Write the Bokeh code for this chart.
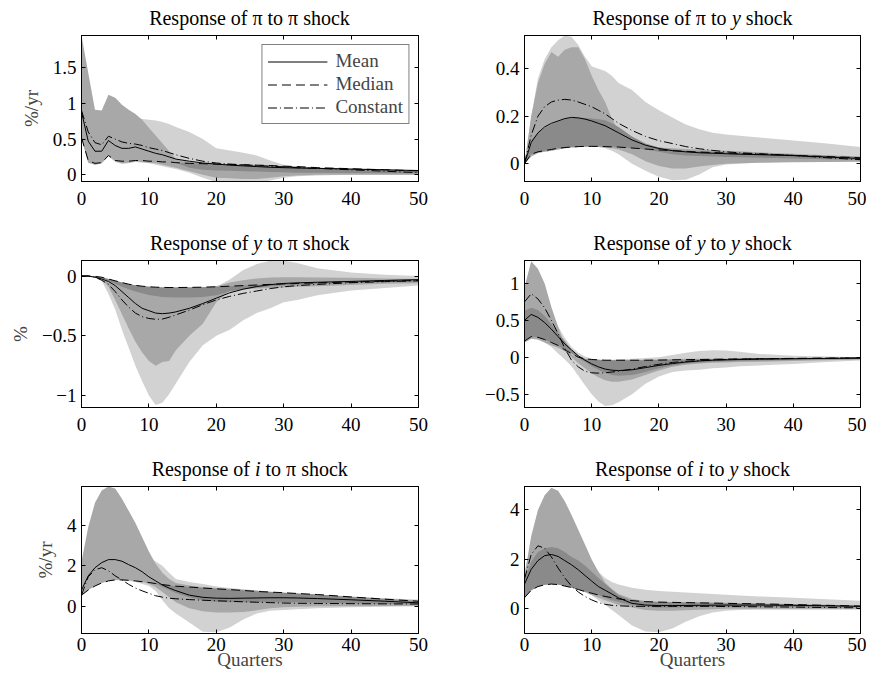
from bokeh.plotting import figure
from bokeh.models import Range1d, LinearAxis, FixedTicker, Legend, LegendItem
from bokeh.core.properties import value
from bokeh.layouts import gridplot
from bokeh.embed import file_html
from bokeh.resources import INLINE

# ---------------- data ----------------
X = [0, 1, 2, 3, 4, 5, 6, 7, 8, 9, 10, 11, 12, 13, 14, 16, 18, 20, 22, 24, 26, 28, 30, 32, 35, 40, 45, 50]
X_TICKS = [0, 10, 20, 30, 40, 50]

# Response of pi to pi shock
pp_mean = [0.88, 0.47, 0.33, 0.33, 0.48, 0.41, 0.37, 0.37, 0.39, 0.36, 0.33, 0.30, 0.28, 0.25, 0.22, 0.19, 0.165, 0.15, 0.135, 0.125, 0.115, 0.105, 0.10, 0.095, 0.09, 0.08, 0.07, 0.06]
pp_median = [0.52, 0.20, 0.16, 0.17, 0.27, 0.20, 0.19, 0.19, 0.20, 0.20, 0.19, 0.19, 0.18, 0.18, 0.17, 0.16, 0.155, 0.15, 0.145, 0.14, 0.135, 0.13, 0.12, 0.115, 0.10, 0.085, 0.07, 0.055]
pp_const = [0.90, 0.60, 0.45, 0.42, 0.54, 0.50, 0.46, 0.44, 0.43, 0.41, 0.38, 0.36, 0.34, 0.31, 0.28, 0.23, 0.19, 0.165, 0.15, 0.14, 0.13, 0.12, 0.11, 0.10, 0.09, 0.07, 0.05, 0.03]
pp_light_lo = [0.50, 0.17, 0.14, 0.16, 0.26, 0.18, 0.15, 0.16, 0.18, 0.17, 0.16, 0.14, 0.12, 0.10, 0.08, 0.03, -0.04, -0.10, -0.12, -0.12, -0.11, -0.08, -0.04, -0.02, -0.01, 0.0, 0.0, 0.0]
pp_light_hi = [1.50, 1.10, 0.85, 0.85, 1.00, 0.95, 0.88, 0.83, 0.80, 0.78, 0.77, 0.76, 0.74, 0.71, 0.67, 0.60, 0.50, 0.37, 0.34, 0.31, 0.27, 0.20, 0.14, 0.11, 0.085, 0.07, 0.06, 0.055]
pp_med_lo = [0.52, 0.17, 0.14, 0.16, 0.27, 0.19, 0.16, 0.17, 0.19, 0.18, 0.17, 0.16, 0.14, 0.12, 0.10, 0.05, 0.0, -0.04, -0.05, -0.06, -0.06, -0.04, -0.02, -0.01, 0.0, 0.0, 0.0, 0.0]
pp_med_hi = [1.95, 1.43, 0.91, 0.90, 1.12, 1.08, 0.98, 0.91, 0.85, 0.77, 0.66, 0.55, 0.44, 0.33, 0.22, 0.18, 0.16, 0.15, 0.14, 0.135, 0.13, 0.12, 0.11, 0.10, 0.095, 0.08, 0.07, 0.06]
pp_dark_lo = [0.52, 0.20, 0.16, 0.17, 0.27, 0.20, 0.19, 0.19, 0.20, 0.20, 0.19, 0.19, 0.18, 0.18, 0.17, 0.10, 0.07, 0.06, 0.055, 0.05, 0.045, 0.04, 0.035, 0.03, 0.03, 0.025, 0.02, 0.02]
pp_dark_hi = [0.52, 0.20, 0.16, 0.17, 0.27, 0.20, 0.19, 0.19, 0.20, 0.20, 0.19, 0.19, 0.18, 0.18, 0.17, 0.16, 0.155, 0.15, 0.145, 0.14, 0.135, 0.13, 0.12, 0.115, 0.10, 0.085, 0.07, 0.055]

# Response of pi to y shock
py_mean = [0.0, 0.09, 0.13, 0.155, 0.17, 0.18, 0.19, 0.195, 0.193, 0.188, 0.18, 0.17, 0.16, 0.145, 0.13, 0.10, 0.078, 0.064, 0.055, 0.05, 0.046, 0.044, 0.042, 0.04, 0.038, 0.034, 0.028, 0.022]
py_median = [0.0, 0.04, 0.05, 0.055, 0.06, 0.065, 0.068, 0.07, 0.072, 0.073, 0.073, 0.073, 0.072, 0.071, 0.07, 0.066, 0.062, 0.058, 0.055, 0.052, 0.049, 0.047, 0.045, 0.043, 0.04, 0.035, 0.03, 0.025]
py_const = [0.0, 0.12, 0.20, 0.24, 0.26, 0.268, 0.271, 0.268, 0.26, 0.25, 0.24, 0.225, 0.21, 0.19, 0.17, 0.14, 0.115, 0.097, 0.085, 0.072, 0.063, 0.056, 0.05, 0.046, 0.042, 0.035, 0.025, 0.017]
py_light_lo = [0.0, 0.03, 0.045, 0.05, 0.055, 0.06, 0.065, 0.068, 0.07, 0.07, 0.07, 0.07, 0.065, 0.055, 0.04, 0.0, -0.03, -0.055, -0.07, -0.068, -0.045, -0.015, -0.003, 0.0, 0.005, 0.008, 0.01, 0.01]
py_light_hi = [0.0, 0.20, 0.36, 0.44, 0.49, 0.52, 0.54, 0.535, 0.50, 0.45, 0.41, 0.40, 0.39, 0.37, 0.34, 0.31, 0.26, 0.225, 0.195, 0.165, 0.145, 0.13, 0.123, 0.118, 0.11, 0.098, 0.085, 0.07]
py_med_lo = [0.0, 0.03, 0.045, 0.05, 0.055, 0.06, 0.065, 0.068, 0.07, 0.07, 0.07, 0.07, 0.068, 0.065, 0.06, 0.04, 0.01, -0.01, -0.02, -0.02, -0.012, -0.005, 0.0, 0.002, 0.004, 0.006, 0.007, 0.008]
py_med_hi = [0.0, 0.20, 0.34, 0.42, 0.47, 0.45, 0.48, 0.49, 0.49, 0.44, 0.37, 0.31, 0.26, 0.19, 0.14, 0.09, 0.075, 0.068, 0.065, 0.062, 0.06, 0.058, 0.055, 0.052, 0.048, 0.042, 0.036, 0.03]
py_dark_lo = [0.0, 0.04, 0.05, 0.055, 0.06, 0.065, 0.068, 0.07, 0.072, 0.073, 0.073, 0.073, 0.072, 0.071, 0.07, 0.066, 0.06, 0.05, 0.04, 0.035, 0.032, 0.03, 0.028, 0.027, 0.025, 0.022, 0.019, 0.015]
py_dark_hi = [0.0, 0.10, 0.13, 0.15, 0.165, 0.178, 0.188, 0.193, 0.194, 0.193, 0.19, 0.187, 0.183, 0.17, 0.155, 0.115, 0.085, 0.068, 0.06, 0.055, 0.052, 0.05, 0.048, 0.046, 0.043, 0.038, 0.033, 0.028]

# Response of y to pi shock
yp_mean = [0.0, 0.0, -0.01, -0.025, -0.045, -0.08, -0.13, -0.18, -0.23, -0.27, -0.29, -0.31, -0.315, -0.31, -0.30, -0.27, -0.23, -0.185, -0.14, -0.11, -0.088, -0.072, -0.062, -0.057, -0.052, -0.045, -0.037, -0.03]
yp_median = [0.0, 0.0, -0.003, -0.01, -0.025, -0.04, -0.055, -0.068, -0.078, -0.085, -0.09, -0.093, -0.095, -0.096, -0.096, -0.095, -0.093, -0.09, -0.085, -0.08, -0.075, -0.07, -0.066, -0.062, -0.057, -0.05, -0.043, -0.037]
yp_const = [0.0, 0.0, -0.01, -0.035, -0.07, -0.13, -0.20, -0.26, -0.31, -0.34, -0.355, -0.362, -0.36, -0.345, -0.325, -0.285, -0.24, -0.20, -0.17, -0.145, -0.125, -0.105, -0.09, -0.08, -0.07, -0.056, -0.047, -0.04]
yp_light_lo = [0.0, 0.0, -0.01, -0.04, -0.15, -0.28, -0.45, -0.60, -0.75, -0.88, -1.0, -1.08, -1.06, -0.99, -0.90, -0.72, -0.58, -0.50, -0.45, -0.37, -0.31, -0.27, -0.22, -0.20, -0.16, -0.12, -0.10, -0.08]
yp_light_hi = [0.0, 0.0, -0.003, -0.01, -0.025, -0.04, -0.055, -0.068, -0.078, -0.085, -0.09, -0.093, -0.095, -0.096, -0.096, -0.095, -0.093, -0.09, -0.03, 0.05, 0.10, 0.128, 0.13, 0.11, 0.065, 0.03, 0.01, 0.0]
yp_med_lo = [0.0, 0.0, -0.008, -0.025, -0.09, -0.20, -0.32, -0.44, -0.55, -0.64, -0.71, -0.75, -0.72, -0.71, -0.62, -0.50, -0.40, -0.22, -0.12, -0.11, -0.105, -0.10, -0.095, -0.09, -0.085, -0.075, -0.065, -0.06]
yp_med_hi = [0.0, 0.0, -0.003, -0.01, -0.025, -0.04, -0.055, -0.068, -0.078, -0.085, -0.09, -0.093, -0.095, -0.096, -0.096, -0.095, -0.093, -0.085, -0.055, -0.035, -0.02, -0.012, -0.01, -0.01, -0.012, -0.015, -0.02, -0.025]
yp_dark_lo = [0.0, 0.0, -0.006, -0.02, -0.04, -0.065, -0.09, -0.11, -0.13, -0.145, -0.158, -0.168, -0.175, -0.178, -0.18, -0.18, -0.175, -0.16, -0.13, -0.11, -0.095, -0.085, -0.078, -0.072, -0.066, -0.058, -0.05, -0.045]
yp_dark_hi = [0.0, 0.0, -0.003, -0.01, -0.025, -0.04, -0.055, -0.068, -0.078, -0.085, -0.09, -0.093, -0.095, -0.096, -0.096, -0.095, -0.093, -0.09, -0.085, -0.08, -0.075, -0.07, -0.066, -0.062, -0.057, -0.05, -0.043, -0.037]

# Response of y to y shock
yy_mean = [0.50, 0.58, 0.54, 0.47, 0.38, 0.28, 0.18, 0.10, 0.02, -0.04, -0.09, -0.13, -0.16, -0.175, -0.18, -0.17, -0.14, -0.11, -0.085, -0.065, -0.05, -0.04, -0.035, -0.03, -0.025, -0.02, -0.015, -0.01]
yy_median = [0.22, 0.28, 0.27, 0.24, 0.20, 0.16, 0.10, 0.05, 0.0, -0.02, -0.03, -0.035, -0.04, -0.04, -0.04, -0.04, -0.04, -0.038, -0.035, -0.032, -0.03, -0.027, -0.025, -0.022, -0.02, -0.015, -0.012, -0.01]
yy_const = [0.75, 0.86, 0.79, 0.67, 0.50, 0.32, 0.12, -0.04, -0.13, -0.19, -0.21, -0.215, -0.21, -0.20, -0.19, -0.16, -0.125, -0.095, -0.07, -0.055, -0.043, -0.035, -0.03, -0.026, -0.022, -0.017, -0.013, -0.01]
yy_light_lo = [0.20, 0.25, 0.24, 0.20, 0.14, 0.05, -0.03, -0.12, -0.25, -0.38, -0.50, -0.60, -0.66, -0.65, -0.61, -0.50, -0.36, -0.26, -0.20, -0.18, -0.17, -0.15, -0.14, -0.12, -0.11, -0.09, -0.065, -0.045]
yy_light_hi = [0.75, 0.90, 0.90, 0.80, 0.62, 0.42, 0.26, 0.14, 0.06, 0.01, -0.02, -0.03, -0.035, -0.035, -0.03, -0.02, -0.01, 0.0, 0.03, 0.06, 0.085, 0.095, 0.09, 0.075, 0.045, 0.02, 0.01, 0.0]
yy_med_lo = [0.20, 0.25, 0.24, 0.20, 0.16, 0.13, 0.08, 0.0, -0.08, -0.15, -0.22, -0.27, -0.31, -0.33, -0.33, -0.30, -0.24, -0.18, -0.13, -0.10, -0.085, -0.075, -0.07, -0.065, -0.06, -0.05, -0.04, -0.03]
yy_med_hi = [0.95, 1.30, 1.20, 1.00, 0.68, 0.41, 0.17, 0.04, -0.02, -0.03, -0.035, -0.04, -0.04, -0.04, -0.04, -0.04, -0.035, -0.03, -0.025, -0.02, -0.02, -0.02, -0.018, -0.016, -0.014, -0.012, -0.01, -0.008]
yy_dark_lo = [0.22, 0.28, 0.27, 0.24, 0.20, 0.16, 0.10, 0.05, -0.01, -0.06, -0.12, -0.17, -0.21, -0.24, -0.25, -0.24, -0.20, -0.15, -0.11, -0.085, -0.07, -0.06, -0.055, -0.05, -0.045, -0.038, -0.03, -0.025]
yy_dark_hi = [0.63, 0.67, 0.64, 0.56, 0.45, 0.33, 0.22, 0.10, 0.02, -0.02, -0.03, -0.035, -0.04, -0.04, -0.04, -0.04, -0.04, -0.038, -0.035, -0.032, -0.03, -0.027, -0.025, -0.022, -0.02, -0.015, -0.012, -0.01]

# Response of i to pi shock
ip_mean = [0.80, 1.50, 1.90, 2.15, 2.30, 2.30, 2.22, 2.05, 1.90, 1.70, 1.45, 1.25, 1.05, 0.90, 0.77, 0.55, 0.44, 0.40, 0.39, 0.40, 0.41, 0.42, 0.42, 0.41, 0.38, 0.32, 0.25, 0.17]
ip_median = [0.55, 0.80, 1.00, 1.15, 1.25, 1.30, 1.30, 1.28, 1.25, 1.21, 1.17, 1.12, 1.07, 1.03, 0.99, 0.95, 0.90, 0.86, 0.82, 0.78, 0.73, 0.70, 0.67, 0.63, 0.58, 0.46, 0.35, 0.25]
ip_const = [0.55, 1.45, 1.80, 1.90, 1.75, 1.50, 1.30, 1.08, 0.90, 0.76, 0.64, 0.52, 0.45, 0.40, 0.37, 0.33, 0.30, 0.27, 0.25, 0.22, 0.20, 0.18, 0.16, 0.15, 0.14, 0.13, 0.12, 0.11]
ip_light_lo = [0.50, 0.80, 1.00, 1.15, 1.25, 1.28, 1.28, 1.25, 1.20, 1.10, 1.00, 0.75, 0.30, -0.10, -0.35, -0.80, -1.25, -1.28, -1.05, -0.65, -0.35, -0.22, -0.18, -0.14, -0.10, -0.05, -0.02, 0.0]
ip_light_hi = [1.80, 2.50, 3.00, 3.20, 3.30, 3.30, 3.20, 3.00, 2.80, 2.60, 2.40, 2.20, 2.00, 1.65, 1.35, 1.20, 1.10, 0.97, 0.90, 0.84, 0.79, 0.72, 0.65, 0.60, 0.54, 0.46, 0.39, 0.33]
ip_med_lo = [0.55, 0.80, 1.00, 1.15, 1.25, 1.30, 1.30, 1.28, 1.25, 1.21, 1.10, 0.95, 0.70, 0.45, 0.20, -0.10, -0.25, -0.30, -0.30, -0.28, -0.20, -0.10, -0.05, -0.02, 0.0, 0.0, 0.02, 0.03]
ip_med_hi = [2.20, 3.90, 5.10, 5.70, 5.90, 5.80, 5.30, 4.70, 4.10, 3.40, 2.70, 2.10, 1.65, 1.35, 1.15, 1.02, 0.95, 0.90, 0.86, 0.82, 0.77, 0.72, 0.67, 0.63, 0.58, 0.48, 0.38, 0.28]
ip_dark_lo = [0.55, 0.80, 1.00, 1.15, 1.25, 1.30, 1.30, 1.28, 1.25, 1.21, 1.17, 1.12, 0.95, 0.80, 0.65, 0.45, 0.30, 0.22, 0.20, 0.20, 0.20, 0.20, 0.20, 0.20, 0.18, 0.15, 0.12, 0.10]
ip_dark_hi = [0.55, 0.80, 1.00, 1.15, 1.25, 1.30, 1.30, 1.28, 1.25, 1.21, 1.17, 1.12, 1.07, 1.03, 0.99, 0.95, 0.90, 0.86, 0.82, 0.78, 0.73, 0.70, 0.67, 0.63, 0.58, 0.46, 0.35, 0.25]

# Response of i to y shock
iy_mean = [1.00, 1.60, 1.95, 2.15, 2.20, 2.12, 1.95, 1.78, 1.58, 1.35, 1.12, 0.90, 0.75, 0.60, 0.44, 0.22, 0.15, 0.13, 0.13, 0.135, 0.14, 0.145, 0.15, 0.15, 0.15, 0.14, 0.12, 0.10]
iy_median = [0.45, 0.75, 0.90, 0.97, 1.00, 0.98, 0.92, 0.86, 0.78, 0.70, 0.63, 0.56, 0.50, 0.45, 0.40, 0.33, 0.29, 0.27, 0.26, 0.25, 0.24, 0.23, 0.22, 0.21, 0.20, 0.17, 0.14, 0.11]
iy_const = [1.20, 2.20, 2.55, 2.45, 2.10, 1.65, 1.25, 0.92, 0.68, 0.50, 0.36, 0.25, 0.18, 0.14, 0.12, 0.10, 0.10, 0.10, 0.10, 0.10, 0.10, 0.10, 0.09, 0.09, 0.08, 0.07, 0.05, 0.04]
iy_light_lo = [0.45, 0.75, 0.90, 0.97, 1.00, 0.98, 0.92, 0.86, 0.78, 0.68, 0.55, 0.35, 0.15, -0.05, -0.25, -0.68, -0.92, -0.95, -0.80, -0.52, -0.30, -0.15, -0.08, -0.05, -0.04, -0.04, -0.04, -0.04]
iy_light_hi = [1.50, 2.50, 3.00, 3.20, 3.30, 3.20, 3.00, 2.70, 2.40, 2.10, 1.80, 1.50, 1.25, 1.08, 0.98, 0.85, 0.77, 0.72, 0.69, 0.66, 0.63, 0.60, 0.57, 0.54, 0.50, 0.45, 0.39, 0.33]
iy_med_lo = [0.45, 0.75, 0.90, 0.97, 1.00, 0.98, 0.92, 0.86, 0.78, 0.68, 0.56, 0.45, 0.35, 0.25, 0.15, 0.05, -0.05, -0.08, -0.08, -0.06, -0.04, -0.02, 0.0, 0.0, 0.0, 0.0, 0.0, 0.0]
iy_med_hi = [1.35, 2.95, 4.00, 4.60, 4.90, 4.78, 4.35, 3.80, 3.20, 2.60, 2.00, 1.50, 1.05, 0.80, 0.60, 0.40, 0.32, 0.29, 0.28, 0.27, 0.26, 0.25, 0.24, 0.23, 0.22, 0.19, 0.16, 0.13]
iy_dark_lo = [0.45, 0.75, 0.90, 0.97, 1.00, 0.98, 0.92, 0.86, 0.78, 0.70, 0.63, 0.56, 0.45, 0.35, 0.27, 0.15, 0.08, 0.05, 0.05, 0.06, 0.07, 0.07, 0.07, 0.07, 0.07, 0.06, 0.05, 0.05]
iy_dark_hi = [1.20, 1.90, 2.30, 2.45, 2.50, 2.45, 2.30, 2.10, 1.95, 1.75, 1.50, 1.25, 1.00, 0.78, 0.55, 0.33, 0.29, 0.27, 0.26, 0.25, 0.24, 0.23, 0.22, 0.21, 0.20, 0.17, 0.14, 0.11]

PANELS = [
    dict(title=[("Response of π to π shock", False)], yr=(-0.094, 1.95), yt=[0, 0.5, 1, 1.5], ylab="%/yr",
         s=(pp_mean, pp_median, pp_const, pp_light_lo, pp_light_hi, pp_med_lo, pp_med_hi, pp_dark_lo, pp_dark_hi)),
    dict(title=[("Response of π to ", False), ("y", True), (" shock", False)], yr=(-0.075, 0.54), yt=[0, 0.2, 0.4], ylab=None,
         s=(py_mean, py_median, py_const, py_light_lo, py_light_hi, py_med_lo, py_med_hi, py_dark_lo, py_dark_hi)),
    dict(title=[("Response of ", False), ("y", True), (" to π shock", False)], yr=(-1.1, 0.13), yt=[-1, -0.5, 0], ylab="%",
         s=(yp_mean, yp_median, yp_const, yp_light_lo, yp_light_hi, yp_med_lo, yp_med_hi, yp_dark_lo, yp_dark_hi)),
    dict(title=[("Response of ", False), ("y", True), (" to ", False), ("y", True), (" shock", False)], yr=(-0.68, 1.31), yt=[-0.5, 0, 0.5, 1], ylab=None,
         s=(yy_mean, yy_median, yy_const, yy_light_lo, yy_light_hi, yy_med_lo, yy_med_hi, yy_dark_lo, yy_dark_hi)),
    dict(title=[("Response of ", False), ("i", True), (" to π shock", False)], yr=(-1.34, 5.9), yt=[0, 2, 4], ylab="%/yr",
         s=(ip_mean, ip_median, ip_const, ip_light_lo, ip_light_hi, ip_med_lo, ip_med_hi, ip_dark_lo, ip_dark_hi)),
    dict(title=[("Response of ", False), ("i", True), (" to ", False), ("y", True), (" shock", False)], yr=(-1.0, 4.95), yt=[0, 2, 4], ylab=None,
         s=(iy_mean, iy_median, iy_const, iy_light_lo, iy_light_hi, iy_med_lo, iy_med_hi, iy_dark_lo, iy_dark_hi)),
]

# ---------------- style ----------------
FONT = "Liberation Serif"
FS = 19
TFS = 20
LIGHT, MEDIUM, DARK = "#d2d2d2", "#a8a8a8", "#8a8a8a"

# Times-compatible advance widths (1/1000 em) used to place the mixed-style titles
REG_W = {"R": 667, "e": 444, "s": 389, "p": 500, "o": 500, "n": 500, "f": 333, "t": 278,
         "h": 500, "c": 444, "k": 500, " ": 250, "π": 530}
ITA_W = {"y": 444, "i": 278}


def text_w(s, italic):
    tbl = ITA_W if italic else REG_W
    return sum(tbl.get(ch, 500) for ch in s) * TFS / 1000.0


def fmt(v):
    s = f"{v:g}"
    return s.replace("-", "\u2212")


def style_axis(ax, ticks, labels=True, standoff=5):
    ax.ticker = FixedTicker(ticks=ticks)
    ax.major_tick_in = 4
    ax.major_tick_out = 0
    ax.minor_tick_in = 0
    ax.minor_tick_out = 0
    ax.axis_line_color = "black"
    ax.axis_line_width = 1
    ax.major_tick_line_color = "black"
    if labels:
        ax.major_label_text_font = FONT
        ax.major_label_text_font_size = f"{FS}px"
        ax.major_label_text_color = "black"
        ax.major_label_standoff = standoff
        ax.major_label_overrides = {t: fmt(t) for t in ticks}
    else:
        # mirrored box ticks only: no tick labels are painted
        ax.major_label_text_font_size = "0px"
        ax.major_label_text_color = None
        ax.major_label_standoff = 0


COL_W = [470, 396]
COL_BL = [81, 54]
COL_BR = [52, 6]
TITLE_H = [35, 43, 43]
FRAME_H = [146, 147, 147]
BOTTOMS = [36, 36, 45]
XSTAND = [10, 10, 4]

rows = []
for r in range(3):
    trow, prow = [], []
    for c in range(2):
        cfg = PANELS[2 * r + c]
        # ---- title strip (upright and italic pieces centred over the frame) ----
        t = figure(width=COL_W[c], height=TITLE_H[r], x_range=Range1d(0, 50), y_range=Range1d(0, 1),
                   output_backend="svg", toolbar_location=None, tools="",
                   x_axis_location=None, y_axis_location=None,
                   min_border_left=COL_BL[c], min_border_right=COL_BR[c], min_border_top=0, min_border_bottom=0)
        t.outline_line_color = None
        t.xgrid.visible = False
        t.ygrid.visible = False
        parts = cfg["title"]
        total = sum(text_w(s, it) for s, it in parts)
        off = -total / 2.0
        ybase = 18.0 / TITLE_H[r]
        for s, it in parts:
            lead = len(s) - len(s.lstrip(" "))
            t.text(x=[25], y=[ybase], text=[s.strip(" ")],
                   x_offset=off + lead * REG_W[" "] * TFS / 1000.0,
                   text_align="left", text_baseline="alphabetic",
                   text_font=value(FONT), text_font_size=value(f"{TFS}px"),
                   text_font_style=value("italic" if it else "normal"), text_color="black")
            off += text_w(s, it)
        trow.append(t)

        # ---- the panel ----
        p = figure(width=COL_W[c], height=FRAME_H[r] + BOTTOMS[r],
                   x_range=Range1d(0, 50), y_range=Range1d(*cfg["yr"]),
                   output_backend="svg", toolbar_location=None, tools="",
                   min_border_left=COL_BL[c], min_border_right=COL_BR[c],
                   min_border_top=0, min_border_bottom=BOTTOMS[r])
        p.xgrid.visible = False
        p.ygrid.visible = False
        p.outline_line_color = "black"
        p.background_fill_color = "white"
        p.border_fill_color = "white"
        xb = p.xaxis[0]
        yl = p.yaxis[0]

        mean, median, const, l_lo, l_hi, m_lo, m_hi, d_lo, d_hi = cfg["s"]
        p.varea(x=X, y1=l_lo, y2=l_hi, fill_color=LIGHT)
        p.varea(x=X, y1=m_lo, y2=m_hi, fill_color=MEDIUM)
        p.varea(x=X, y1=d_lo, y2=d_hi, fill_color=DARK)
        r_mean = p.line(X, mean, line_color="black", line_width=1)
        r_med = p.line(X, median, line_color="black", line_width=1, line_dash="9 5")
        r_con = p.line(X, const, line_color="black", line_width=1, line_dash="9 3 1 3")

        style_axis(xb, X_TICKS, standoff=XSTAND[r])
        style_axis(yl, cfg["yt"])
        top_ax = LinearAxis()
        right_ax = LinearAxis()
        style_axis(top_ax, X_TICKS, labels=False)
        style_axis(right_ax, cfg["yt"], labels=False)
        p.add_layout(top_ax, "above")
        p.add_layout(right_ax, "right")

        if cfg["ylab"]:
            yl.axis_label = cfg["ylab"]
            yl.axis_label_text_font = FONT
            yl.axis_label_text_font_size = f"{FS}px"
            yl.axis_label_text_font_style = "normal"
            yl.axis_label_standoff = 8
        if r == 2:
            xb.axis_label = "Quarters"
            xb.axis_label_text_font = FONT
            xb.axis_label_text_font_size = f"{FS}px"
            xb.axis_label_text_font_style = "normal"
            xb.axis_label_standoff = -5

        if r == 0 and c == 0:
            legend = Legend(items=[LegendItem(label="Mean", renderers=[r_mean]),
                                   LegendItem(label="Median", renderers=[r_med]),
                                   LegendItem(label="Constant", renderers=[r_con])],
                            location="top_right", margin=9, padding=5, spacing=1,
                            glyph_width=60, glyph_height=21, label_height=21, label_standoff=8,
                            label_text_font=FONT, label_text_font_size=f"{FS}px",
                            border_line_color="black", border_line_width=1,
                            background_fill_color="white", background_fill_alpha=1.0)
            p.add_layout(legend)
        prow.append(p)
    rows.append(trow)
    rows.append(prow)

grid = gridplot(rows, toolbar_location=None)

open("out.html", "w").write(file_html(grid, INLINE))
